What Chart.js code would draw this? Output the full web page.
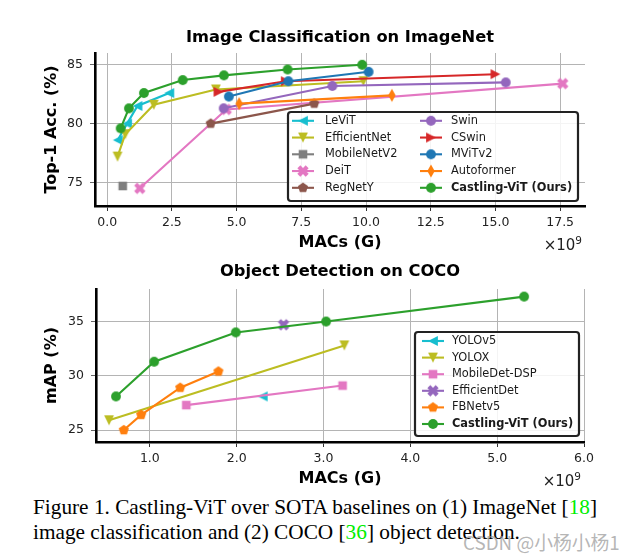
<!DOCTYPE html>
<html>
<head>
<meta charset="utf-8">
<script src="https://cdn.jsdelivr.net/npm/chart.js@4.4.1/dist/chart.umd.min.js"></script>
<style>
html,body{margin:0;padding:0;background:#fff;}
#wrap{position:relative;width:636px;height:560px;overflow:hidden;background:#fff;}
#wrap canvas{position:absolute;left:0;}
.cap{position:absolute;left:33px;font-family:"Liberation Serif","Times New Roman",serif;font-size:21px;line-height:25px;color:#000;white-space:nowrap;transform-origin:0 50%;}
.ref{color:#00ee00;}
#wm{position:absolute;left:463px;top:530px;font-family:"Noto Sans CJK SC","DejaVu Sans",sans-serif;font-size:18.8px;line-height:24px;color:rgba(150,150,150,0.7);white-space:nowrap;}
</style>
</head>
<body>
<div id="wrap">
  <canvas id="c1" width="636" height="250" style="top:0px"></canvas>
  <canvas id="c2" width="636" height="240" style="top:250px"></canvas>
  <div class="cap" id="cap1" style="top:495px">Figure 1. Castling-ViT over SOTA baselines on (1) ImageNet [<span class="ref">18</span>]</div>
  <div class="cap" id="cap2" style="top:520px">image classification and (2) COCO [<span class="ref">36</span>] object detection.</div>
  <div id="wm">CSDN @小杨小杨1</div>
</div>
<script>
// ---------- DATA: Image Classification on ImageNet (MACs in G, Top-1 %) ----------
const levitMacs = [0.41, 0.77, 1.17, 2.40];
const levitAcc  = [78.6, 80.0, 81.5, 82.6];
const effnetMacs = [0.40, 0.70, 1.80, 4.20, 9.90];
const effnetAcc  = [77.2, 79.1, 81.6, 82.9, 83.6];
const mobilenetMacs = [0.60];
const mobilenetAcc  = [74.7];
const deitMacs = [1.26, 4.60, 17.6];
const deitAcc  = [74.5, 81.2, 83.4];
const regnetMacs = [4.0, 8.0];
const regnetAcc  = [80.0, 81.7];
const swinMacs = [4.5, 8.7, 15.4];
const swinAcc  = [81.3, 83.2, 83.5];
const cswinMacs = [4.3, 6.9, 15.0];
const cswinAcc  = [82.7, 83.6, 84.2];
const mvitMacs = [4.7, 7.0, 10.1];
const mvitAcc  = [82.3, 83.6, 84.4];
const autoformerMacs = [5.1, 11.0];
const autoformerAcc  = [81.7, 82.4];
const castlingClsMacs = [0.52, 0.84, 1.42, 2.92, 4.51, 6.97, 9.85];
const castlingClsAcc  = [79.6, 81.3, 82.6, 83.7, 84.1, 84.6, 85.0];
const clsXTicks = [0, 2.5, 5, 7.5, 10, 12.5, 15, 17.5];
const clsYTicks = [75, 80, 85];

// ---------- DATA: Object Detection on COCO (MACs in G, mAP %) ----------
const yolov5Macs = [2.30];
const yolov5Map  = [28.1];
const yoloxMacs = [0.53, 3.24];
const yoloxMap  = [25.9, 32.8];
const mobiledetMacs = [1.42, 3.22];
const mobiledetMap  = [27.3, 29.1];
const effdetMacs = [2.54];
const effdetMap  = [34.7];
const fbnetMacs = [0.70, 0.90, 1.35, 1.79];
const fbnetMap  = [25.0, 26.4, 28.9, 30.4];
const castlingDetMacs = [0.61, 1.05, 1.99, 3.03, 5.31];
const castlingDetMap  = [28.1, 31.3, 34.0, 35.0, 37.3];
const detXTicks = [1, 2, 3, 4, 5, 6];
const detYTicks = [25, 30, 35];

// ---------- styles ----------
const C = {cyan:'#17becf', olive:'#bcbd22', gray:'#7f7f7f', pink:'#e377c2', brown:'#8c564b',
           purple:'#9467bd', red:'#d62728', blue:'#1f77b4', orange:'#ff7f0e', green:'#2ca02c'};
const FONT = '"DejaVu Sans", sans-serif';

function poly(g, pts){ g.moveTo(pts[0][0], pts[0][1]); for (let i=1;i<pts.length;i++) g.lineTo(pts[i][0], pts[i][1]); g.closePath(); }
function mk(shape, color){
  const S = 16, c = document.createElement('canvas'); c.width = S; c.height = S;
  const g = c.getContext('2d'); g.fillStyle = color; g.translate(S/2, S/2); g.beginPath();
  const t = 4.9;
  if (shape === 'o') g.arc(0, 0, 4.9, 0, 2*Math.PI);
  else if (shape === '<') poly(g, [[-t,0],[t,-t],[t,t]]);
  else if (shape === '>') poly(g, [[t,0],[-t,-t],[-t,t]]);
  else if (shape === 'v') poly(g, [[0,t],[-t,-t],[t,-t]]);
  else if (shape === 's') g.rect(-4.3, -4.3, 8.6, 8.6);
  else if (shape === 'd') poly(g, [[0,-6.4],[3.7,0],[0,6.4],[-3.7,0]]);
  else if (shape === 'p') { const p=[]; for (let i=0;i<5;i++){ const a=-Math.PI/2+i*2*Math.PI/5; p.push([5.3*Math.cos(a),5.3*Math.sin(a)]);} poly(g,p); }
  else if (shape === 'X') {
    const w = 0.36, base = [[w,1],[-w,1],[-w,w],[-1,w],[-1,-w],[-w,-w],[-w,-1],[w,-1],[w,-w],[1,-w],[1,w],[w,w]];
    const r = 5.9, ca = Math.cos(Math.PI/4), sa = Math.sin(Math.PI/4);
    poly(g, base.map(([x,y]) => [r*(x*ca - y*sa), r*(x*sa + y*ca)]));
  }
  g.fill();
  return c;
}
function ds(label, xs, ys, color, marker, bold){
  return {label, data: xs.map((x,i)=>({x, y: ys[i]})), borderColor: color, backgroundColor: color,
          borderWidth: 2.1, showLine: true, tension: 0, pointStyle: mk(marker, color),
          pointRadius: 5, pointHoverRadius: 5, _bold: !!bold};
}

function annotPlugin(o){
  return {
    id: 'annot',
    afterDraw(chart){
      const ctx = chart.ctx, a = chart.chartArea, cx = (a.left + a.right)/2;
      ctx.save();
      ctx.fillStyle = '#000';
      ctx.textAlign = 'center'; ctx.textBaseline = 'middle';
      ctx.font = 'bold 16.3px ' + FONT;
      ctx.fillText(o.title, cx, o.titleY);
      ctx.font = 'bold 16px ' + FONT;
      ctx.fillText('MACs (G)', cx, a.bottom + 37);
      ctx.save(); ctx.translate(52, (a.top + a.bottom)/2); ctx.rotate(-Math.PI/2);
      ctx.fillText(o.ylabel, 0, 0); ctx.restore();
      // offset text x10^9
      ctx.fillStyle = '#222';
      ctx.textAlign = 'right'; ctx.textBaseline = 'alphabetic';
      ctx.font = '10.5px ' + FONT;
      const sw = ctx.measureText('9').width;
      ctx.fillText('9', a.right - 3, a.bottom + 38);
      ctx.font = '15px ' + FONT;
      ctx.fillText('\u00d710', a.right - 3 - sw, a.bottom + 44);
      // legend
      const L = o.legend;
      ctx.fillStyle = 'rgba(255,255,255,0.85)';
      ctx.strokeStyle = '#222'; ctx.lineWidth = 2.2;
      ctx.beginPath();
      if (ctx.roundRect) ctx.roundRect(L.x, L.y, L.w, L.h, 3); else ctx.rect(L.x, L.y, L.w, L.h);
      ctx.fill(); ctx.stroke();
      ctx.textAlign = 'left'; ctx.textBaseline = 'middle';
      chart.data.datasets.forEach((d, i) => {
        const col = Math.floor(i / L.rows), row = i % L.rows;
        const cc = L.cols[col], y = L.y + L.first + row * L.step;
        ctx.strokeStyle = d.borderColor; ctx.lineWidth = 2.1;
        ctx.beginPath(); ctx.moveTo(cc.h0, y); ctx.lineTo(cc.h1, y); ctx.stroke();
        const img = d.pointStyle;
        ctx.drawImage(img, (cc.h0 + cc.h1)/2 - img.width/2, y - img.height/2);
        ctx.fillStyle = '#1a1a1a';
        ctx.font = (d._bold ? 'bold ' : '') + '11.4px ' + FONT;
        ctx.fillText(d.label, cc.t, y);
      });
      ctx.restore();
    }
  };
}

function makeChart(id, datasets, ax, o){
  datasets.forEach((d, i) => { d.order = datasets.length - i; });
  return new Chart(document.getElementById(id), {
    type: 'scatter',
    data: {datasets},
    options: {
      responsive: false, animation: false, events: [], devicePixelRatio: 1,
      layout: {padding: {left: 0, top: ax.top, right: ax.right, bottom: 0}},
      plugins: {legend: {display: false}, tooltip: {enabled: false}, title: {display: false}},
      scales: {
        x: {type: 'linear', min: ax.xmin, max: ax.xmax,
            afterBuildTicks: s => { s.ticks = ax.xticks.map(v => ({value: v})); },
            afterFit: s => { s.height = ax.xh; },
            ticks: {autoSkip: false, maxRotation: 0, padding: 4, color: '#222',
                    font: {family: FONT, size: 12.5}, callback: v => Number(v).toFixed(1)},
            grid: {color: '#b4b4b4', lineWidth: 1, tickLength: 5, tickColor: '#333', tickWidth: 1},
            border: {display: true, color: '#000', width: 2.6}},
        y: {type: 'linear', min: ax.ymin, max: ax.ymax,
            afterBuildTicks: s => { s.ticks = ax.yticks.map(v => ({value: v})); },
            afterFit: s => { s.width = ax.yw; },
            ticks: {autoSkip: false, padding: 7, color: '#222',
                    font: {family: FONT, size: 12.5}, callback: v => String(v)},
            grid: {color: '#b4b4b4', lineWidth: 1, tickLength: 5, tickColor: '#666', tickWidth: 1},
            border: {display: true, color: '#000', width: 2.6}}
      }
    },
    plugins: [annotPlugin(o)]
  });
}

makeChart('c1', [
  ds('LeViT', levitMacs, levitAcc, C.cyan, '<'),
  ds('EfficientNet', effnetMacs, effnetAcc, C.olive, 'v'),
  ds('MobileNetV2', mobilenetMacs, mobilenetAcc, C.gray, 's'),
  ds('DeiT', deitMacs, deitAcc, C.pink, 'X'),
  ds('RegNetY', regnetMacs, regnetAcc, C.brown, 'p'),
  ds('Swin', swinMacs, swinAcc, C.purple, 'o'),
  ds('CSwin', cswinMacs, cswinAcc, C.red, '>'),
  ds('MViTv2', mvitMacs, mvitAcc, C.blue, 'o'),
  ds('Autoformer', autoformerMacs, autoformerAcc, C.orange, 'd'),
  ds('Castling-ViT (Ours)', castlingClsMacs, castlingClsAcc, C.green, 'o', true)
], {top: 53, right: 51, xh: 44, yw: 95, xmin: -0.47, xmax: 18.46, ymin: 73, ymax: 86,
    xticks: clsXTicks, yticks: clsYTicks},
   {title: 'Image Classification on ImageNet', titleY: 38, ylabel: 'Top-1 Acc. (%)',
    legend: {x: 288, y: 112, w: 290, h: 89, rows: 5, first: 8.8, step: 16.75,
             cols: [{h0: 292, h1: 314, t: 325}, {h0: 420, h1: 442, t: 451}]}});

makeChart('c2', [
  ds('YOLOv5', yolov5Macs, yolov5Map, C.cyan, '<'),
  ds('YOLOX', yoloxMacs, yoloxMap, C.olive, 'v'),
  ds('MobileDet-DSP', mobiledetMacs, mobiledetMap, C.pink, 's'),
  ds('EfficientDet', effdetMacs, effdetMap, C.purple, 'X'),
  ds('FBNetv5', fbnetMacs, fbnetMap, C.orange, 'p'),
  ds('Castling-ViT (Ours)', castlingDetMacs, castlingDetMap, C.green, 'o', true)
], {top: 39, right: 52, xh: 48, yw: 96, xmin: 0.38, xmax: 6.0, ymin: 23.9, ymax: 38.0,
    xticks: detXTicks, yticks: detYTicks},
   {title: 'Object Detection on COCO', titleY: 22, ylabel: 'mAP (%)',
    legend: {x: 415, y: 82, w: 164, h: 104, rows: 6, first: 9, step: 16.6,
             cols: [{h0: 422, h1: 444, t: 452}]}});

// fit caption width to the reference's text block
(function(){
  const c1 = document.getElementById('cap1'), c2 = document.getElementById('cap2');
  const w = c1.getBoundingClientRect().width;
  const k = 564 / w;
  c1.style.transform = 'scaleX(' + k + ')';
  c2.style.transform = 'scaleX(' + k + ')';
})();
</script>
</body>
</html>
